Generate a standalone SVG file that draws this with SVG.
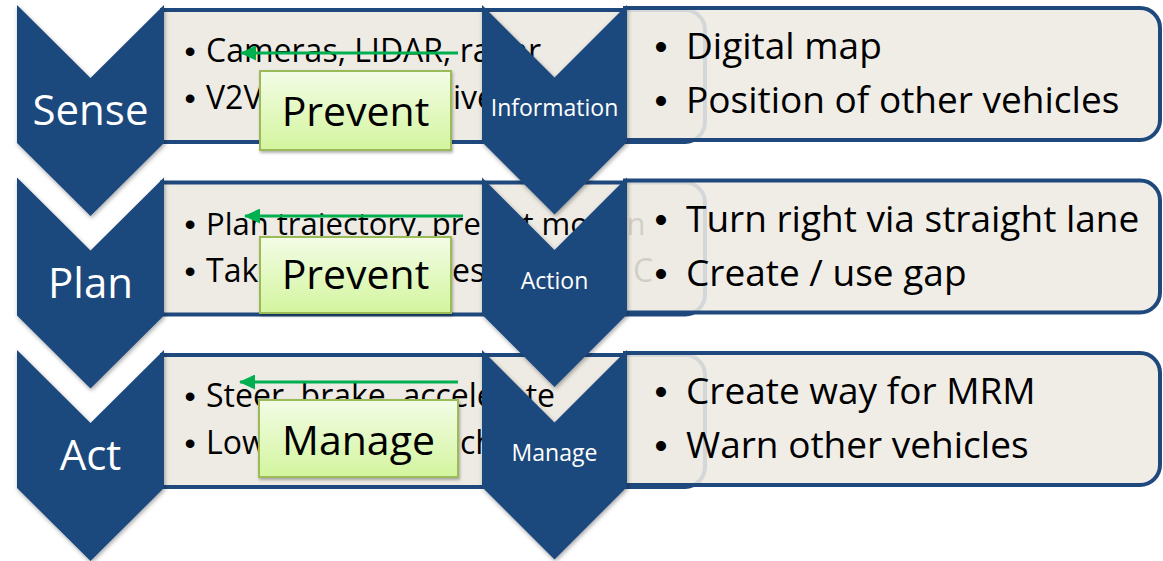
<svg xmlns="http://www.w3.org/2000/svg" width="1163" height="561" viewBox="0 0 1163 561">
<defs>
<style>
.chev{fill:#1F497D;filter:url(#sh);}
.lbox{fill:#EEEBE4;stroke:#1F497D;stroke-width:4;}
.rbox{fill:#EEEBE4;fill-opacity:0.88;stroke:#1F497D;stroke-width:4;}
.lt{font-family:"Open Sans","Noto Sans",sans-serif;font-size:32px;fill:#000;}
.rt{font-family:"Open Sans","Noto Sans",sans-serif;font-size:37px;fill:#000;}
.bl{font-family:"Liberation Sans",Arial,sans-serif;text-anchor:middle;fill:#000;}
.lb{font-size:32px;}
.rb{font-size:37px;}
.big{font-family:"Open Sans","Noto Sans",sans-serif;font-size:42px;fill:#fff;text-anchor:middle;}
.mid{font-family:"Open Sans","Noto Sans",sans-serif;font-size:23px;fill:#fff;text-anchor:middle;}
.gb{fill:url(#gg);stroke:#9BBB59;stroke-width:2;filter:url(#sh2);}
.gt{font-family:"Open Sans","Noto Sans",sans-serif;font-size:41px;fill:#000;text-anchor:middle;}
.arr{stroke:#00B050;stroke-width:3.2;fill:none;marker-end:url(#ah);}
</style>
<linearGradient id="gg" x1="0" y1="0" x2="0" y2="1">
<stop offset="0" stop-color="#F3FCE6"/>
<stop offset="1" stop-color="#D3F59E"/>
</linearGradient>
<filter id="sh" x="-10%" y="-10%" width="130%" height="130%">
<feDropShadow dx="1" dy="2" stdDeviation="2" flood-color="#000" flood-opacity="0.35"/>
</filter>
<filter id="sh2" x="-10%" y="-10%" width="130%" height="130%">
<feDropShadow dx="1" dy="2" stdDeviation="1.5" flood-color="#000" flood-opacity="0.3"/>
</filter>
<marker id="ah" markerWidth="16" markerHeight="15" refX="15" refY="7.5" orient="auto" markerUnits="userSpaceOnUse">
<path d="M0,0 L16,7.5 L0,15 Z" fill="#00B050"/>
</marker>
</defs>
<rect width="1163" height="561" fill="#fff"/>

<g id="sense-box">
<path class="lbox" d="M162,10 H685 A20,20 0 0 1 705,30 V122 A20,20 0 0 1 685,142 H162 Z"/>
<text class="bl lb" x="190" y="62">•</text>
<text class="lt" x="206" y="62">Cameras, LIDAR, radar</text>
<text class="bl lb" x="190" y="109">•</text>
<text class="lt" x="206" y="109">V2V</text>
<text class="lt" x="453" y="109">ive</text>
</g>
<g id="plan-box">
<path class="lbox" d="M162,182.5 H685 A20,20 0 0 1 705,202.5 V294.5 A20,20 0 0 1 685,314.5 H162 Z"/>
<text class="bl lb" x="190" y="234.5">•</text>
<text class="lt" x="206" y="234.5" style="font-size:31px">Plan trajectory, predict motion</text>
<text class="bl lb" x="190" y="281.5">•</text>
<text class="lt" x="206" y="281.5">Take</text>
<text class="lt" x="452" y="281.5">est</text>
<text class="lt" x="633" y="281.5">C</text>
</g>
<g id="act-box">
<path class="lbox" d="M162,355 H685 A20,20 0 0 1 705,375 V467 A20,20 0 0 1 685,487 H162 Z"/>
<text class="bl lb" x="190" y="407">•</text>
<text class="lt" x="206" y="407">Steer, brake, accelerate</text>
<text class="bl lb" x="190" y="454">•</text>
<text class="lt" x="206" y="454">Low</text>
<text class="lt" x="460" y="454">ch</text>
</g>

<g id="sense">
<polygon class="chev" points="17,5 90.5,78 164,5 164,143 90.5,216 17,143"/>
<text class="big" x="90.5" y="125">Sense</text>
</g>
<g id="plan">
<polygon class="chev" points="17,177.5 90.5,250.5 164,177.5 164,315.5 90.5,388.5 17,315.5"/>
<text class="big" x="90.5" y="297.5">Plan</text>
</g>
<g id="act">
<polygon class="chev" points="17,350 90.5,423 164,350 164,488 90.5,561 17,488"/>
<text class="big" x="90.5" y="470">Act</text>
</g>

<g id="connectors">
<line class="arr" x1="458" y1="53" x2="241" y2="53"/>
<line class="arr" x1="463" y1="216" x2="245" y2="216"/>
<line class="arr" x1="458" y1="382" x2="240" y2="382"/>
</g>

<g id="prevent-1">
<rect class="gb" x="260" y="71" width="191" height="79"/>
<text class="gt" x="355.5" y="126">Prevent</text>
</g>
<g id="prevent-2">
<rect class="gb" x="260" y="237" width="191" height="76"/>
<text class="gt" x="355.5" y="289">Prevent</text>
</g>
<g id="manage-1">
<rect class="gb" x="259" y="400" width="199" height="77"/>
<text class="gt" x="358.5" y="455">Manage</text>
</g>

<g id="information-box">
<path class="rbox" d="M625,8 H1140 A20,20 0 0 1 1160,28 V120 A20,20 0 0 1 1140,140 H625 Z"/>
<text class="bl rb" x="661" y="59">•</text>
<text class="rt" x="686" y="59">Digital map</text>
<text class="bl rb" x="661" y="113">•</text>
<text class="rt" x="686" y="113">Position of other vehicles</text>
</g>
<g id="action-box">
<path class="rbox" d="M625,180.5 H1140 A20,20 0 0 1 1160,200.5 V292.5 A20,20 0 0 1 1140,312.5 H625 Z"/>
<text class="bl rb" x="661" y="231.5">•</text>
<text class="rt" x="686" y="231.5">Turn right via straight lane</text>
<text class="bl rb" x="661" y="285.5">•</text>
<text class="rt" x="686" y="285.5">Create / use gap</text>
</g>
<g id="manage-box">
<path class="rbox" d="M625,353 H1140 A20,20 0 0 1 1160,373 V465 A20,20 0 0 1 1140,485 H625 Z"/>
<text class="bl rb" x="661" y="404">•</text>
<text class="rt" x="686" y="404">Create way for MRM</text>
<text class="bl rb" x="661" y="458">•</text>
<text class="rt" x="686" y="458">Warn other vehicles</text>
</g>

<g id="information">
<polygon class="chev" points="482,5 554.5,77.5 627,5 627,142 554.5,214.5 482,142"/>
<text class="mid" x="554.5" y="116">Information</text>
</g>
<g id="action">
<polygon class="chev" points="482,177.5 554.5,250 627,177.5 627,314.5 554.5,387 482,314.5"/>
<text class="mid" x="554.5" y="288.5">Action</text>
</g>
<g id="manage">
<polygon class="chev" points="482,350 554.5,422.5 627,350 627,487 554.5,559.5 482,487"/>
<text class="mid" x="554.5" y="461">Manage</text>
</g>
</svg>
